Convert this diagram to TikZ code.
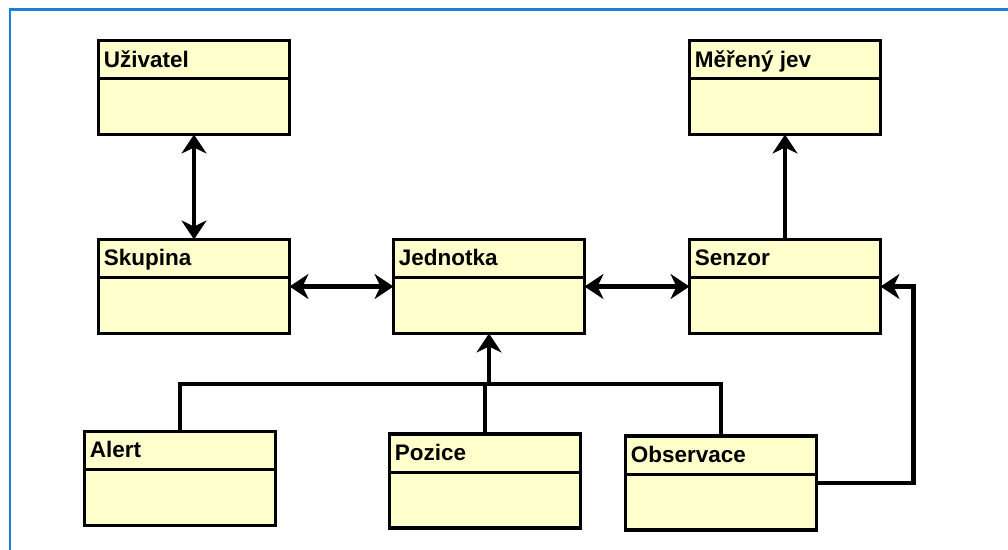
\documentclass[tikz,border=0pt]{standalone}
\usepackage{fontspec}
\setmainfont{Liberation Sans}
\usepackage{xcolor}
\usepackage{tikz}
\usetikzlibrary{arrows.meta, positioning, calc}

\definecolor{classfill}{RGB}{255,255,204}
\definecolor{frameblue}{RGB}{28,128,212}

\begin{document}
\begin{tikzpicture}[x=0.02cm, y=-0.02cm,
    box/.style={rectangle, draw, line width=0.07cm, fill=classfill, minimum width=3.82cm, minimum height=1.88cm, inner sep=0pt, outer sep=0pt},
    title/.style={anchor=north west, inner sep=0pt, xshift=0.1cm, yshift=-0.19cm, font=\fontsize{12.8}{15}\selectfont\bfseries},
    wire/.style={line width=0.09cm},
    umltip/.tip={Stealth[length=0.38cm, width=0.5cm, inset=0.12cm]}]
    \useasboundingbox (0,0) rectangle (1008,550);
    \draw [frameblue, line width=0.06cm] (10,550) -- (10,10) -- (1008,10);

    \node [box, label={[title]north west:Uživatel}] (uzivatel) at (194,87.5) {};
    \node [box, label={[title]north west:Měřený jev}] (merenyjev) at (785,87.5) {};
    \node [box, label={[title]north west:Skupina}] (skupina) at (194,286.5) {};
    \node [box, label={[title]north west:Jednotka}] (jednotka) at (489,286.5) {};
    \node [box, label={[title]north west:Senzor}] (senzor) at (785,286.5) {};
    \node [box, label={[title]north west:Alert}] (alert) at (180,478.5) {};
    \node [box, label={[title]north west:Pozice}] (pozice) at (485,481) {};
    \node [box, label={[title]north west:Observace}] (observace) at (721,483) {};

    % compartment lines
    \foreach \n in {uzivatel, merenyjev, skupina, jednotka, senzor, alert, pozice, observace}
        \draw [line width=0.06cm] ([yshift=-0.76cm]\n.north west) -- ([yshift=-0.76cm]\n.north east);

    \draw [wire, umltip-umltip] (uzivatel) -- (skupina);
    \draw [wire, umltip-umltip] (skupina) -- (jednotka);
    \draw [wire, umltip-umltip] (jednotka) -- (senzor);
    \draw [wire, -umltip] (senzor) -- (merenyjev);

    \coordinate (bus) at (489,384);
    \draw [wire] (alert.north) |- (bus) -| (observace.north);
    \draw [wire] (pozice.north) -- (pozice.north |- bus);
    \draw [wire, -umltip] (bus) -- (jednotka.south);
    \draw [wire, -umltip] (observace.east) -- ++(97,0) |- (senzor.east);
\end{tikzpicture}
\end{document}
